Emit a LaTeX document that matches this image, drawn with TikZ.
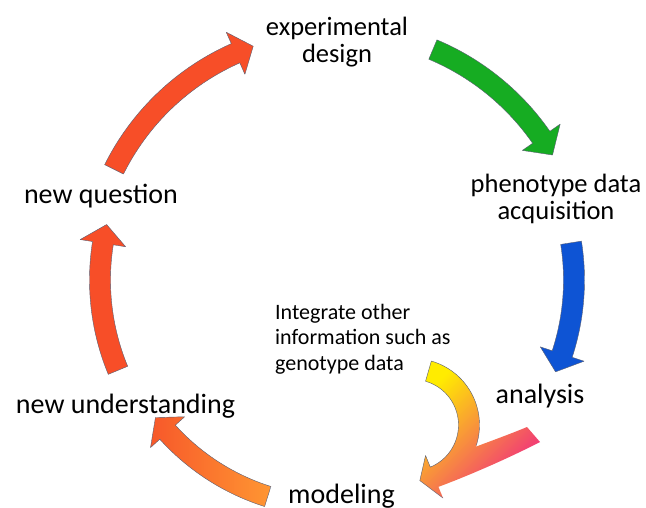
\documentclass[tikz,border=0pt]{standalone}
\usepackage{fontspec}
\setmainfont{Carlito}
\definecolor{arrred}{RGB}{247,78,40}
\definecolor{arrgreen}{RGB}{22,172,34}
\definecolor{arrblue}{RGB}{14,84,212}
\definecolor{arrpink}{RGB}{240,40,130}
\definecolor{arryellow}{RGB}{255,236,0}
\definecolor{arrorange}{RGB}{255,150,50}
\definecolor{arrorangered}{RGB}{247,88,42}
\definecolor{edgecol}{RGB}{90,95,115}
\def\bw{10.5}
% #1 options, #2 cx, #3 cy, #4 radius, #5 start angle, #6 tip angle, #7 head length, #8 half head width
\newcommand\cycarrow[8]{%
  \pgfmathsetmacro\hb{#6-(#7)/(#4)*57.29578}%
  \path[#1] plot[domain=#5:\hb,samples=40] ({#2+(#4+\bw)*cos(\x)},{#3+(#4+\bw)*sin(\x)})
   -- ({#2+(#4+#8)*cos(\hb)},{#3+(#4+#8)*sin(\hb)})
   -- ({#2+(#4)*cos(#6)},{#3+(#4)*sin(#6)})
   -- ({#2+(#4-#8)*cos(\hb)},{#3+(#4-#8)*sin(\hb)})
   -- plot[domain=\hb:#5,samples=40] ({#2+(#4-\bw)*cos(\x)},{#3+(#4-\bw)*sin(\x)})
   -- cycle;}
\tikzset{
  lbl/.style={font=\fontsize{28}{30}\selectfont, inner sep=0pt},
  lbltwo/.style={font=\fontsize{26.5}{27}\selectfont, align=center, inner sep=0pt},
  note/.style={font=\fontsize{22}{25.5}\selectfont, align=left, inner sep=0pt},
  edge/.style={draw=edgecol, line width=0.4pt, line join=round}
}
\begin{document}
\begin{tikzpicture}[x=1pt,y=-1pt]
\useasboundingbox[fill=white] (0,0) rectangle (646,507);

% labels
\node[lbltwo, anchor=north] (design) at (337,17) {experimental\\design};
\node[lbltwo, anchor=north] (acq) at (556,174) {phenotype data\\acquisition};
\node[lbl, anchor=base] (analysis) at (540,403) {analysis};
\node[lbl, anchor=base] (modeling) at (341.5,503) {modeling};
\node[lbl, anchor=base] (understanding) at (125.5,413) {new understanding};
\node[lbl, anchor=base] (question) at (101,203) {new question};
\node[note, anchor=north west] (integrate) at (275,304) {Integrate other\\information such as\\genotype data};

% cycle arrows
\cycarrow{fill=arrred, edge}{336}{280}{248}{206.5}{250.5}{19}{23}
\cycarrow{fill=arrgreen, edge}{336}{280}{250}{292.8}{330}{21}{23}
\cycarrow{fill=arrblue, edge}{336}{280}{238}{351}{382.7}{19}{23}
\cycarrow{left color=arrorangered, right color=arrorange, edge}{336}{280}{227}{107.5}{142.7}{19}{23}
\cycarrow{fill=arrred, edge}{336}{280}{236}{157.5}{193.6}{19}{23}

% merged yellow / pink arrow into modeling
\pgfmathsetmacro\yhb{443-15/56*57.29578}
\shade[top color=arryellow, middle color=arrorange, bottom color=arrpink, shading angle=45]
  plot[domain=286:\yhb,samples=50] ({413+(56+\bw)*cos(\x)},{425+(56+\bw)*sin(\x)})
   -- ({413+79*cos(\yhb)},{425+79*sin(\yhb)})
   -- ({413+56*cos(443)},{425+56*sin(443)})
   -- ({413+33*cos(\yhb)},{425+33*sin(\yhb)})
   -- plot[domain=\yhb:286,samples=50] ({413+(56-\bw)*cos(\x)},{425+(56-\bw)*sin(\x)})
   -- cycle
  (540,442) .. controls (505,460) and (465,477) .. (438,487)
   -- (462,452) .. controls (485,443) and (508,435) .. (527,427) -- cycle;
\draw[edge]
  plot[domain=378:286,samples=40] ({413+(56+\bw)*cos(\x)},{425+(56+\bw)*sin(\x)})
   -- plot[domain=286:\yhb,samples=50] ({413+(56-\bw)*cos(\x)},{425+(56-\bw)*sin(\x)})
   -- ({413+33*cos(\yhb)},{425+33*sin(\yhb)})
   -- ({413+56*cos(443)},{425+56*sin(443)})
   -- ({413+79*cos(\yhb)},{425+79*sin(\yhb)});
\end{tikzpicture}
\end{document}
